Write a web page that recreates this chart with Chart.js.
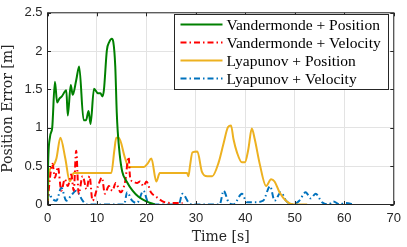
<!DOCTYPE html>
<html>
<head>
<meta charset="utf-8">
<script src="https://cdn.jsdelivr.net/npm/chart.js@4"></script>
<style>
html, body { margin: 0; padding: 0; background: #fff; }
#wrap { width: 407px; height: 247px; }
</style>
</head>
<body>
<div id="wrap"><canvas id="plot" width="407" height="247"></canvas></div>
<script>
// Vandermonde + Position
const vpT = [0, 0.1, 0.5, 0.95, 1.5, 1.95, 2.4, 2.9, 3.8, 4.1, 4.7, 5.1, 5.8, 6.4, 7.3, 7.8, 8.3, 8.7, 9.4, 10.2, 10.7, 11.1, 11.4, 12.0, 12.5, 13.0, 13.3, 13.7, 14.0, 14.2, 14.6, 15.1, 16.0, 17.2, 18.4, 20.0, 21.7]
const vpY = [0, 0.47, 0.88, 1.0, 1.6, 1.33, 1.38, 1.41, 1.49, 1.16, 1.56, 1.43, 1.62, 1.8, 1.10, 1.10, 1.22, 1.05, 1.51, 1.45, 1.45, 1.41, 1.49, 2.01, 2.12, 2.16, 2.12, 1.8, 1.2, 0.95, 0.65, 0.43, 0.3, 0.18, 0.1, 0.04, 0]

// Vandermonde + Velocity
const vvT = [0, 0.5, 1.0, 1.5, 2.1, 2.8, 3.5, 4.1, 4.8, 5.3, 5.8, 6.3, 7.1, 7.9, 8.5, 9.1, 10.1, 11.0, 11.6, 12.4, 13.1, 13.8, 14.8, 15.7, 16.4, 16.7, 17.3, 18.1, 18.7, 19.4, 20.0, 20.9, 22.0, 23.7, 25.6, 27.3]
const vvY = [0, 0.35, 0.53, 0.35, 0.49, 0.18, 0.33, 0.24, 0.39, 0.18, 0.70, 0.14, 0.37, 0.2, 0.37, 0.05, 0.22, 0.35, 0.14, 0.24, 0.18, 0.28, 0.16, 0.3, 0.62, 0.35, 0.3, 0.28, 0.3, 0.24, 0.3, 0.16, 0.1, 0.03, 0.02, 0.02]

// Lyapunov + Position
const lpT = [0, 0.3, 1.15, 1.8, 2.6, 3.6, 4.5, 5.3, 12.9, 13.5, 13.9, 14.4, 15.7, 16.4, 19.5, 20.2, 21.0, 22.0, 22.7, 28.2, 28.5, 28.8, 29.3, 30.3, 31.2, 32.3, 33.3, 34.6, 35.6, 36.5, 37.1, 37.6, 38.3, 39.3, 39.9, 40.6, 41.3, 41.9, 42.9, 44.2, 45.2, 45.9, 46.9, 48.2, 49.9, 52.5]
const lpY = [0, 0.41, 0.51, 0.6, 0.87, 0.6, 0.3, 0.41, 0.41, 0.7, 0.87, 0.87, 0.6, 0.49, 0.49, 0.53, 0.6, 0.3, 0.41, 0.41, 0.37, 0.5, 0.68, 0.69, 0.43, 0.37, 0.37, 0.55, 0.8, 1.01, 1.03, 0.85, 0.68, 0.55, 0.55, 0.72, 0.99, 0.85, 0.53, 0.24, 0.33, 0.3, 0.16, 0.05, 0, 0]

// Lyapunov + Velocity
const lvT = [0, 0.35, 0.9, 1.8, 2.8, 3.8, 4.8, 5.8, 7.1, 8.0, 15.5, 16.1, 17.1, 18.1, 19.4, 20.3, 21.7, 26.5, 27.3, 28.6, 29.5, 34.8, 35.6, 36.6, 37.6, 39.3, 40.3, 41.9, 43.6, 45.0, 45.9, 47.2, 48.2, 49.6, 50.9, 52.2, 53.2, 54.2, 55.5, 56.8, 57.8, 59.1, 60.1, 62.1]
const lvY = [0.06, 0.14, 0.08, 0.05, 0.22, 0.05, 0.12, 0.18, 0.05, 0, 0, 0.16, 0.05, 0.02, 0.18, 0.03, 0, 0, 0.14, 0.02, 0, 0, 0.18, 0.03, 0, 0.14, 0.03, 0.03, 0.05, 0.24, 0.05, 0.16, 0.05, 0, 0.05, 0.16, 0.08, 0.14, 0.03, 0, 0.04, 0, 0.02, 0]

const xTicks = [0, 10, 20, 30, 40, 50, 60, 70]
const yTicks = [0, 0.5, 1, 1.5, 2, 2.5]

const pts = (t, y) => t.map((x, i) => ({x: x, y: y[i]}))
const dashDot = [6, 3, 1.5, 3]
const axisCol = '#262626'

function series(label, t, y, color, dash) {
  return {
    label: label,
    data: pts(t, y),
    borderColor: color,
    backgroundColor: color,
    borderWidth: 2,
    borderDash: dash,
    pointRadius: 0,
    cubicInterpolationMode: 'monotone',
    fill: false,
  }
}

// box, inward ticks and the legend, MATLAB style
const boxPlugin = {
  id: 'box',
  afterDatasetsDraw(chart) {
    const ctx = chart.ctx
    const a = chart.chartArea
    const xs = chart.scales.x, ys = chart.scales.y
    ctx.save()
    ctx.strokeStyle = axisCol
    ctx.lineWidth = 1
    ctx.setLineDash([])
    ctx.strokeRect(a.left, a.top, a.right - a.left, a.bottom - a.top)
    ctx.beginPath()
    xTicks.forEach(v => {
      const px = Math.round(xs.getPixelForValue(v)) + 0.5
      ctx.moveTo(px, a.bottom); ctx.lineTo(px, a.bottom - 3.5)
      ctx.moveTo(px, a.top); ctx.lineTo(px, a.top + 3.5)
    })
    yTicks.forEach(v => {
      const py = Math.round(ys.getPixelForValue(v)) + 0.5
      ctx.moveTo(a.left, py); ctx.lineTo(a.left + 3.5, py)
      ctx.moveTo(a.right, py); ctx.lineTo(a.right - 3.5, py)
    })
    ctx.stroke()

    // legend
    const L = 174.5, T = 14.5, W = 214, H = 75
    ctx.fillStyle = '#fff'
    ctx.fillRect(L, T, W, H)
    ctx.strokeStyle = axisCol
    ctx.strokeRect(L, T, W, H)
    ctx.font = '15.5px "Liberation Serif"'
    ctx.textBaseline = 'middle'
    ctx.textAlign = 'left'
    chart.data.datasets.forEach((ds, i) => {
      const y = T + 10 + i * 18
      ctx.strokeStyle = ds.borderColor
      ctx.lineWidth = 2
      ctx.setLineDash(ds.borderDash || [])
      ctx.beginPath()
      ctx.moveTo(L + 6, y); ctx.lineTo(L + 48, y)
      ctx.stroke()
      ctx.setLineDash([])
      ctx.fillStyle = '#000'
      ctx.fillText(ds.label, L + 52, y + 1)
    })
    ctx.restore()
  }
}

const tickFont = { family: '"Liberation Sans"', size: 13 }
const titleFont = { family: '"DejaVu Serif"', size: 14 }

const chart = new Chart(document.getElementById('plot'), {
  type: 'line',
  data: {
    datasets: [
      series('Vandermonde + Position', vpT, vpY, '#008000', []),
      series('Vandermonde + Velocity', vvT, vvY, '#ff0000', dashDot),
      series('Lyapunov + Position', lpT, lpY, '#EDB120', []),
      series('Lyapunov + Velocity', lvT, lvY, '#0072BD', dashDot),
    ]
  },
  options: {
    responsive: false,
    animation: false,
    devicePixelRatio: 1,
    layout: { padding: { top: 4.5, right: 8, left: 0, bottom: 0 } },
    plugins: { legend: { display: false }, tooltip: { enabled: false } },
    scales: {
      x: {
        type: 'linear', min: 0, max: 70,
        afterBuildTicks: s => { s.ticks = xTicks.map(v => ({value: v})) },
        afterFit: s => { s.height = 42.5 },
        grid: { color: '#e3e3e3', drawTicks: false },
        border: { display: false },
        ticks: { padding: 6, color: axisCol, font: tickFont, callback: v => String(v) },
        title: { display: true, text: 'Time [s]', color: axisCol, padding: { top: 0, bottom: 1 }, font: titleFont }
      },
      y: {
        type: 'linear', min: 0, max: 2.5,
        afterBuildTicks: s => { s.ticks = yTicks.map(v => ({value: v})) },
        afterFit: s => { s.width = 47.5 },
        grid: { color: '#e3e3e3', drawTicks: false },
        border: { display: false },
        ticks: { padding: 5, color: axisCol, font: tickFont, callback: v => String(v) },
        title: { display: true, text: 'Position Error [m]', color: axisCol, padding: { top: 0, bottom: 0 }, font: titleFont }
      }
    }
  },
  plugins: [boxPlugin]
})
</script>
</body>
</html>
